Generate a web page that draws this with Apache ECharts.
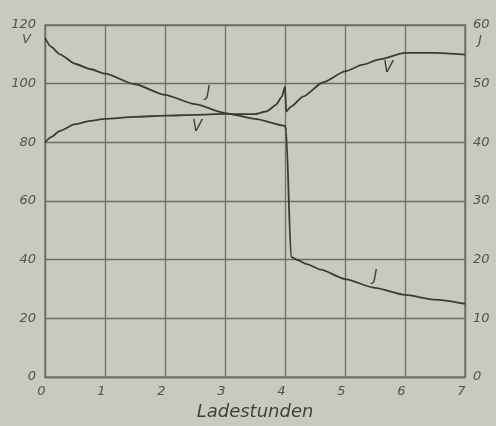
<!DOCTYPE html>
<html>
<head>
<meta charset="utf-8">
<script src="https://cdn.jsdelivr.net/npm/echarts@6/dist/echarts.min.js"></script>
<style>
html,body{margin:0;padding:0;background:#c9cabd;}
#c{width:496px;height:426px;}
</style>
</head>
<body>
<div id="c"></div>
<script>
// Hours of charging
var xTicks = [0,1,2,3,4,5,6,7];
var vTicks = [0,20,40,60,80,100,120];
var jTicks = [0,10,20,30,40,50,60];

// Voltage V (left axis)
var vHours  = [0, 0.1, 0.25, 0.5, 0.75, 1, 1.5, 2, 2.5, 3, 3.3, 3.5, 3.7, 3.85, 3.95, 4.0, 4.02, 4.1, 4.3, 4.63, 5, 5.3, 5.57, 6, 6.5, 7];
var vValues = [80, 81.8, 83.9, 86.2, 87.3, 88, 88.7, 89.1, 89.4, 89.7, 89.6, 89.6, 90.6, 92.8, 95.7, 99, 90.5, 92.2, 95.6, 100.4, 104.2, 106.5, 108.3, 110.5, 110.5, 109.9];

// Current J (right axis)
var jHours  = [0, 0.1, 0.25, 0.5, 0.75, 1, 1.5, 2, 2.5, 3, 3.5, 4.0, 4.02, 4.1, 4.2, 4.35, 4.6, 5, 5.5, 6, 6.5, 7];
var jValues = [57.8, 56.3, 55.0, 53.4, 52.5, 51.7, 49.9, 48.1, 46.5, 45.0, 44.0, 42.8, 42, 20.5, 20.0, 19.3, 18.3, 16.7, 15.2, 14.0, 13.2, 12.5];

function pairs(xs, ys){ return xs.map(function(x,i){ return [x, ys[i]]; }); }

var FONT = 'DejaVu Sans';
var TXT = '#52534c';
var GRIDC = '#6d6e66';
var LINEC = '#3a3b36';

var chart = echarts.init(document.getElementById('c'), null, {renderer:'canvas'});
chart.setOption({
  backgroundColor: '#c9cabd',
  animation: false,
  grid: {left:45, right:31, top:25, bottom:45, show:true, borderColor:GRIDC, borderWidth:1.3},
  xAxis: {
    type:'value', min:0, max:7, interval:1,
    axisLine:{show:true, lineStyle:{color:GRIDC, width:1.3}},
    axisTick:{show:false},
    splitLine:{show:true, lineStyle:{color:GRIDC, width:1.3}},
    axisLabel:{color:TXT, fontFamily:FONT, fontStyle:'italic', fontSize:13, margin:8, padding:[0,7,0,0],
      formatter:function(v){ return xTicks.indexOf(v) >= 0 ? String(v) : ''; }},
    name:'Ladestunden', nameLocation:'middle', nameGap:25,
    nameTextStyle:{color:'#3f403a', fontFamily:FONT, fontStyle:'italic', fontSize:18}
  },
  yAxis: [
    {type:'value', min:0, max:120, interval:20, position:'left',
     axisLine:{show:true, lineStyle:{color:GRIDC, width:1.3}},
     axisTick:{show:false},
     splitLine:{show:true, lineStyle:{color:GRIDC, width:1.3}},
     axisLabel:{color:TXT, fontFamily:FONT, fontStyle:'italic', fontSize:13, margin:9, padding:[0,0,11,0],
       formatter:function(v){ return vTicks.indexOf(v) >= 0 ? String(v) : ''; }}},
    {type:'value', min:0, max:60, interval:10, position:'right',
     axisLine:{show:true, lineStyle:{color:GRIDC, width:1.3}},
     axisTick:{show:false},
     splitLine:{show:false},
     axisLabel:{color:TXT, fontFamily:FONT, fontStyle:'italic', fontSize:13, margin:8, padding:[0,0,11,0],
       formatter:function(v){ return jTicks.indexOf(v) >= 0 ? String(v) : ''; }}}
  ],
  series: [
    {type:'line', name:'V', yAxisIndex:0, data:pairs(vHours, vValues), showSymbol:false,
     smooth:0.2, smoothMonotone:'x', lineStyle:{color:LINEC, width:1.8}},
    {type:'line', name:'J', yAxisIndex:1, data:pairs(jHours, jValues), showSymbol:false,
     smooth:0.2, smoothMonotone:'x', lineStyle:{color:LINEC, width:1.8}}
  ],
  graphic: [
    {type:'text', left:22, top:33, style:{text:'V', fill:TXT, font:'italic 13px "DejaVu Sans"'}},
    {type:'text', left:478, top:34, style:{text:'J', fill:TXT, font:'italic 13px "DejaVu Sans"'}},
    {type:'text', left:206, top:86, style:{text:'J', fill:'#3f403a', font:'italic 15px "DejaVu Sans"'}},
    {type:'text', left:192, top:120, style:{text:'V', fill:'#3f403a', font:'italic 15px "DejaVu Sans"'}},
    {type:'text', left:383, top:61, style:{text:'V', fill:'#3f403a', font:'italic 15px "DejaVu Sans"'}},
    {type:'text', left:373, top:270, style:{text:'J', fill:'#3f403a', font:'italic 15px "DejaVu Sans"'}}
  ]
});
</script>
</body>
</html>
